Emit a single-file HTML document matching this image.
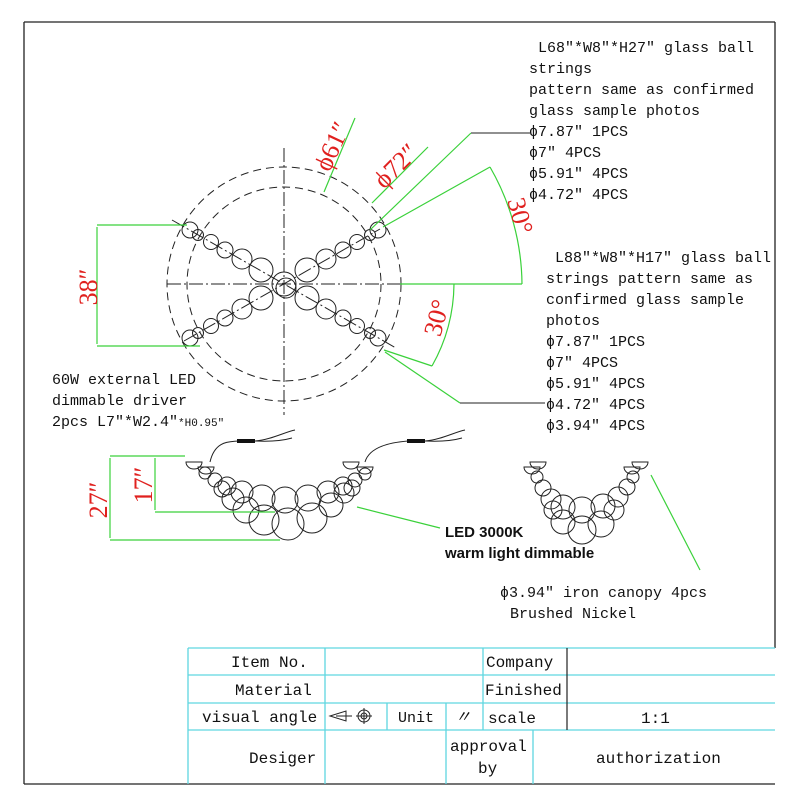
<!DOCTYPE html>
<html><head><meta charset="utf-8"><style>
html,body{margin:0;padding:0;background:#fff}
svg{display:block}
.t{font-family:"Liberation Mono","Noto Serif CJK SC",monospace;font-size:15px;fill:#111}
.r{font-family:"Liberation Serif",serif;font-size:26px;fill:#e0201e}
.b{font-family:"Liberation Sans",sans-serif;font-size:15px;font-weight:bold;fill:#111}
.tb{font-family:"Liberation Mono",monospace;font-size:16px;fill:#111}
</style></head><body>
<svg width="800" height="800" viewBox="0 0 800 800" xmlns="http://www.w3.org/2000/svg">
<g stroke="#222" stroke-width="1.3" fill="none">
<line x1="24" y1="22" x2="775" y2="22"/>
<line x1="24" y1="22" x2="24" y2="784"/>
<line x1="24" y1="784" x2="775" y2="784"/>
<line x1="775" y1="22" x2="775" y2="648"/>
</g>
<g fill="none" stroke="#222" stroke-width="1">
<circle cx="284" cy="284" r="117" stroke-dasharray="8,5"/>
<circle cx="284" cy="284" r="97" stroke-dasharray="8,5"/>
<line x1="284" y1="148" x2="284" y2="415" stroke-dasharray="14,3,2,3"/>
<line x1="167" y1="284" x2="400" y2="284" stroke-dasharray="14,3,2,3"/>
<line x1="172" y1="220" x2="396" y2="348" stroke-dasharray="14,3,2,3"/>
<line x1="184" y1="341" x2="380" y2="229" stroke-dasharray="14,3,2,3"/>
<circle cx="284" cy="284" r="12"/><circle cx="286" cy="288" r="10"/>
<g id="arm">
<circle cx="261" cy="270" r="12"/><circle cx="242" cy="259" r="10"/><circle cx="225" cy="250" r="8"/><circle cx="211" cy="242" r="7.5"/><circle cx="198" cy="235" r="5.5"/><circle cx="190" cy="230" r="8"/>
</g>
<use href="#arm" transform="translate(568,0) scale(-1,1)"/>
<use href="#arm" transform="translate(0,568) scale(1,-1)"/>
<use href="#arm" transform="translate(568,568) scale(-1,-1)"/>
</g>
<g stroke="#3ad13a" stroke-width="1.2" fill="none">
<line x1="97" y1="225" x2="187" y2="225"/><line x1="97" y1="346" x2="200" y2="346"/>
<line x1="97" y1="227" x2="97" y2="344"/>
<line x1="324" y1="192" x2="355" y2="118"/>
<line x1="372" y1="203" x2="428" y2="147"/>
<line x1="370" y1="230" x2="471" y2="133"/>
<line x1="383" y1="227" x2="490" y2="167"/>
<path d="M490 167 A238 238 0 0 1 522 284"/>
<line x1="400" y1="284" x2="522" y2="284"/>
<path d="M454 284 A170 170 0 0 1 432 366"/>
<line x1="384" y1="350" x2="432" y2="366"/>
<line x1="385" y1="352" x2="460" y2="403"/>
</g>
<g stroke="#222" stroke-width="1"><line x1="471" y1="133" x2="530" y2="133"/><line x1="460" y1="403" x2="545" y2="403"/></g>
<text class="r" transform="translate(97,287) rotate(-90)" text-anchor="middle">38″</text>
<text class="r" transform="translate(340,150) rotate(-65)" text-anchor="middle">ϕ61″</text>
<text class="r" transform="translate(402,172) rotate(-45)" text-anchor="middle">ϕ72″</text>
<text class="r" transform="translate(512,218) rotate(75)" text-anchor="middle">30°</text>
<text class="r" transform="translate(445,320) rotate(-75)" text-anchor="middle">30°</text>
<g class="t">
<text x="538" y="52">L68″*W8″*H27″ glass ball</text>
<text x="529" y="73">strings</text>
<text x="529" y="94">pattern same as confirmed</text>
<text x="529" y="115">glass sample photos</text>
<text x="529" y="136">ϕ7.87″ 1PCS</text>
<text x="529" y="157">ϕ7″ 4PCS</text>
<text x="529" y="178">ϕ5.91″ 4PCS</text>
<text x="529" y="199">ϕ4.72″ 4PCS</text>
<text x="555" y="262">L88″*W8″*H17″ glass ball</text>
<text x="546" y="283">strings pattern same as</text>
<text x="546" y="304">confirmed glass sample</text>
<text x="546" y="325">photos</text>
<text x="546" y="346">ϕ7.87″ 1PCS</text>
<text x="546" y="367">ϕ7″ 4PCS</text>
<text x="546" y="388">ϕ5.91″ 4PCS</text>
<text x="546" y="409">ϕ4.72″ 4PCS</text>
<text x="546" y="430">ϕ3.94″ 4PCS</text>
<text x="52" y="384">60W external LED</text>
<text x="52" y="405">dimmable driver</text>
<text x="52" y="426">2pcs L7″*W2.4″<tspan font-size="11">*H0.95″</tspan></text>
<text x="500" y="597">ϕ3.94″ iron canopy 4pcs</text>
<text x="510" y="618">Brushed Nickel</text>
</g>
<text class="b" x="445" y="537">LED 3000K</text>
<text class="b" x="445" y="558">warm light dimmable</text>
<g fill="none" stroke="#222" stroke-width="1">
<path d="M186 462 a8 7 0 0 0 16 0 z M198 467 a8 7 0 0 0 16 0 z M343 462 a8 7 0 0 0 16 0 z M357 467 a8 7 0 0 0 16 0 z"/>
<path d="M210 462 C215 440 230 442 238 441 M255 441 C270 440 285 432 295 430 M255 441 C275 442 285 440 292 438"/>
<path d="M365 462 C370 445 395 442 408 441 M425 441 C440 440 455 432 465 430 M425 441 C445 442 455 440 462 438"/>
<circle cx="205" cy="473" r="6"/><circle cx="215" cy="480" r="7"/><circle cx="227" cy="486" r="9"/><circle cx="242" cy="492" r="11"/><circle cx="262" cy="498" r="13"/><circle cx="285" cy="500" r="13"/><circle cx="308" cy="498" r="13"/><circle cx="328" cy="492" r="11"/><circle cx="343" cy="486" r="9"/><circle cx="355" cy="480" r="7"/><circle cx="365" cy="474" r="6"/>
<circle cx="222" cy="489" r="8"/><circle cx="233" cy="499" r="11"/><circle cx="246" cy="510" r="13"/><circle cx="264" cy="520" r="15"/><circle cx="288" cy="524" r="16"/><circle cx="312" cy="518" r="15"/><circle cx="331" cy="505" r="12"/><circle cx="344" cy="493" r="10"/><circle cx="352" cy="488" r="8"/>
<path d="M524 467 a8 7 0 0 0 16 0 z M530 462 a8 7 0 0 0 16 0 z M624 467 a8 7 0 0 0 16 0 z M632 462 a8 7 0 0 0 16 0 z"/>
<circle cx="537" cy="477" r="6"/><circle cx="543" cy="488" r="8"/><circle cx="551" cy="499" r="10"/><circle cx="563" cy="507" r="12"/><circle cx="582" cy="510" r="13"/><circle cx="603" cy="506" r="12"/><circle cx="618" cy="497" r="10"/><circle cx="627" cy="487" r="8"/><circle cx="633" cy="477" r="6"/>
<circle cx="553" cy="510" r="9"/><circle cx="563" cy="522" r="12"/><circle cx="582" cy="530" r="14"/><circle cx="601" cy="524" r="13"/><circle cx="614" cy="510" r="10"/>
</g>
<g fill="#111"><rect x="237" y="439" width="18" height="4"/><rect x="407" y="439" width="18" height="4"/></g>
<g stroke="#3ad13a" stroke-width="1.2" fill="none">
<line x1="110" y1="456" x2="185" y2="456"/><line x1="110" y1="540" x2="280" y2="540"/><line x1="155" y1="512" x2="275" y2="512"/>
<line x1="110" y1="458" x2="110" y2="538"/><line x1="155" y1="458" x2="155" y2="510"/>
<line x1="357" y1="507" x2="440" y2="528"/>
<line x1="651" y1="475" x2="700" y2="570"/>
</g>
<text class="r" transform="translate(107,500) rotate(-90)" text-anchor="middle">27″</text>
<text class="r" transform="translate(152,485) rotate(-90)" text-anchor="middle">17″</text>
<g stroke="#5fd6e0" stroke-width="1.3" fill="none">
<line x1="188" y1="648" x2="775" y2="648"/><line x1="188" y1="675" x2="775" y2="675"/><line x1="188" y1="703" x2="775" y2="703"/><line x1="188" y1="730" x2="775" y2="730"/>
<line x1="188" y1="648" x2="188" y2="784"/><line x1="325" y1="648" x2="325" y2="784"/>
<line x1="387" y1="703" x2="387" y2="730"/><line x1="446" y1="703" x2="446" y2="784"/><line x1="483" y1="648" x2="483" y2="730"/><line x1="533" y1="730" x2="533" y2="784"/>
</g>
<line x1="567" y1="648" x2="567" y2="730" stroke="#222" stroke-width="1.2"/>
<g class="tb">
<text x="231" y="667">Item No.</text>
<text x="235" y="695">Material</text>
<text x="202" y="722">visual angle</text>
<text x="398" y="722" font-size="15">Unit</text>
<text x="455" y="722" font-style="italic">〃</text>
<text x="486" y="667">Company</text>
<text x="485" y="695">Finished</text>
<text x="488" y="723">scale</text>
<text x="641" y="723">1:1</text>
<text x="249" y="763">Desiger</text>
<text x="450" y="751">approval</text>
<text x="478" y="773">by</text>
<text x="596" y="763">authorization</text>
</g>
<g fill="none" stroke="#222" stroke-width="1">
<path d="M330 716 L346 711 L346 721 Z M336 716 L352 716"/>
<circle cx="364" cy="716" r="6"/><circle cx="364" cy="716" r="3"/><line x1="356" y1="716" x2="372" y2="716"/><line x1="364" y1="708" x2="364" y2="724"/>
</g>
</svg>
</body></html>
